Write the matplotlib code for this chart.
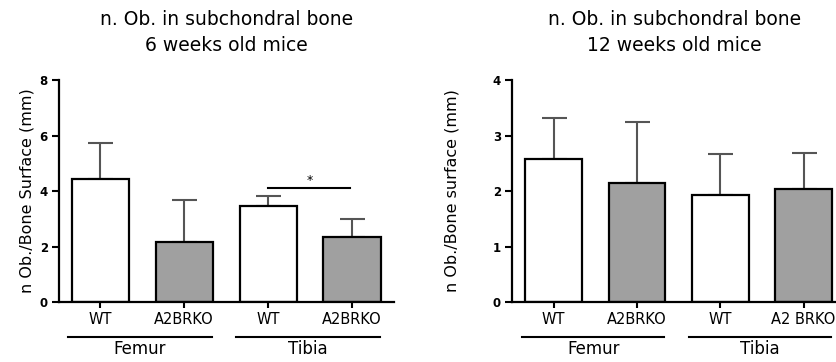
import matplotlib.pyplot as plt
from matplotlib import transforms

groups = ["Femur", "Tibia"]
bar_labels = ["WT", "A2BRKO", "WT", "A2BRKO"]
bar_labels_12 = ["WT", "A2BRKO", "WT", "A2 BRKO"]

# 6 weeks old mice
mean_6w = [4.45, 2.17, 3.47, 2.33]
err_6w = [1.27, 1.51, 0.35, 0.67]
# 12 weeks old mice
mean_12w = [2.58, 2.15, 1.92, 2.03]
err_12w = [0.74, 1.10, 0.75, 0.66]

fills = ["white", "#a0a0a0", "white", "#a0a0a0"]
pos = [0, 1, 2, 3]

plt.rcParams['font.family'] = ['DejaVu Sans']

fig = plt.figure(figsize=(8.37, 3.62), dpi=100)
ax1 = fig.add_axes([0.0705, 0.1657, 0.4002, 0.6133])
ax2 = fig.add_axes([0.6117, 0.1657, 0.3883, 0.6133])


def draw(ax, means, errs, labels, ymax, ylabel, title, xlim, lpad):
    ax.bar(pos, means, width=0.68, color=fills, edgecolor="black", linewidth=1.6, zorder=2)
    ax.errorbar(pos, means, yerr=[[0] * 4, errs], fmt="none", ecolor="#555555",
                elinewidth=1.5, capsize=9, capthick=1.5, zorder=1)
    ax.set_xlim(*xlim)
    ax.set_ylim(0, ymax)
    ax.set_yticks(range(0, ymax + 1, 2 if ymax == 8 else 1))
    ax.set_xticks(pos)
    ax.set_xticklabels(labels, fontsize=10.5)
    for s in ["top", "right"]:
        ax.spines[s].set_visible(False)
    for s in ["left", "bottom"]:
        ax.spines[s].set_linewidth(1.6)
    ax.tick_params(axis="y", length=5, width=1.5, labelsize=8.5, pad=3)
    ax.tick_params(axis="x", length=4, width=1.5, pad=3)
    for t in ax.get_yticklabels():
        t.set_fontweight("bold")
    ax.set_ylabel(ylabel, fontsize=11.5, labelpad=lpad)
    ax.set_title(title, fontsize=13.5, pad=21, linespacing=1.45)
    tr = transforms.blended_transform_factory(ax.transData, ax.transAxes)
    for i, g in enumerate(groups):
        x0 = pos[2 * i] - 0.38
        x1 = pos[2 * i + 1] + 0.33
        ax.plot([x0, x1], [-0.158, -0.158], color="black", lw=1.5,
                transform=tr, clip_on=False)
        ax.text((x0 + x1) / 2, -0.21, g, transform=tr, ha="center", va="center",
                fontsize=12)


draw(ax1, mean_6w, err_6w, bar_labels, 8, "n Ob./Bone Surface (mm)",
     "n. Ob. in subchondral bone\n6 weeks old mice", (-0.49, 3.5), 4)
draw(ax2, mean_12w, err_12w, bar_labels_12, 4, "n Ob./Bone surface (mm)",
     "n. Ob. in subchondral bone\n12 weeks old mice", (-0.5, 3.4), 24)

# significance bar between tibia groups
ax1.plot([2.0, 2.98], [4.1, 4.1], color="black", lw=1.5)
ax1.text(2.5, 4.15, "*", ha="center", va="bottom", fontsize=9)

fig.savefig("out.png", dpi=100)
